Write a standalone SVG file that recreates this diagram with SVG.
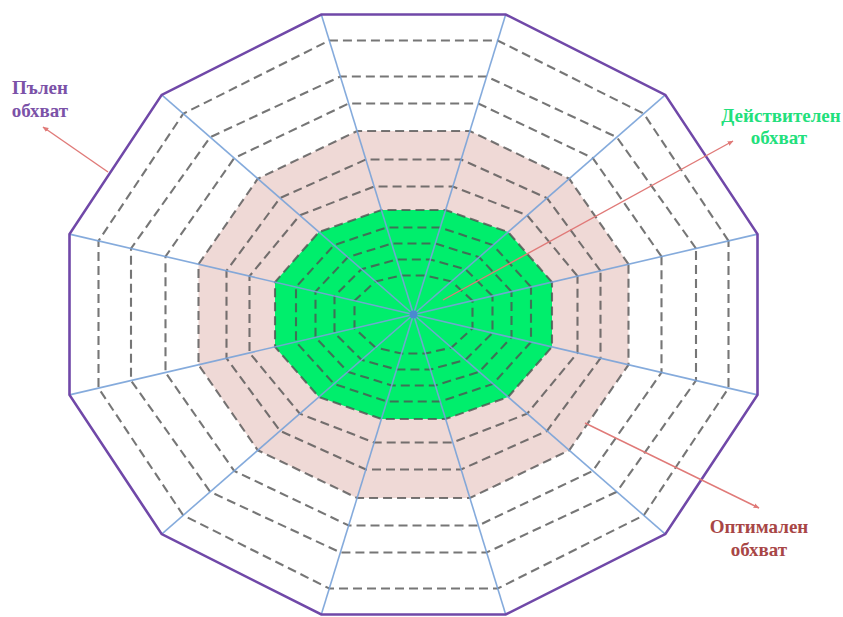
<svg xmlns="http://www.w3.org/2000/svg" width="843" height="617" viewBox="0 0 843 617">
<defs>
<style>
.ring{fill:none;stroke:#505050;stroke-opacity:0.78;stroke-width:2.1;stroke-dasharray:9 5}
.spoke{stroke:#78a2d8;stroke-width:1.6;stroke-opacity:0.9}
.arrow{stroke:#e07a78;stroke-width:1.4;fill:none;marker-end:url(#ah)}
.lbl{font-family:"Liberation Serif","Times New Roman",serif;font-weight:bold;font-size:19px;text-anchor:middle}
</style>
<marker id="ah" viewBox="0 0 10 10" refX="9" refY="5" markerWidth="6" markerHeight="6" orient="auto" markerUnits="userSpaceOnUse">
<path d="M0,1 L10,5 L0,9 z" fill="#e07a78"/>
</marker>
</defs>
<rect width="843" height="617" fill="#ffffff"/>
<g id="zones">
<polygon id="optimal-zone" fill="#efd9d6" points="628.5,264.2 569.2,178.7 469.9,131 357.1,131 257.8,178.7 198.5,264.2 198.5,364.8 257.8,450.3 357.1,498 469.9,498 569.2,450.3 628.5,364.8"/>
<polygon id="actual-zone" fill="#00ee6c" points="552,282.1 508.1,232 445.6,210 381.4,210 318.9,232 275,282.1 275,346.9 318.9,397 381.4,419 445.6,419 508.1,397 552,346.9"/>
</g>
<g id="rings">
<polygon class="ring" points="728.5,240.9 643.8,113.7 497.7,40.5 329.3,40.5 183.2,113.7 98.5,240.9 98.5,388.1 183.2,515.3 329.3,588.5 497.7,588.5 643.8,515.3 728.5,388.1"/>
<polygon class="ring" points="696,248.5 616.8,137.2 486.6,76.5 340.4,76.5 210.2,137.2 131,248.5 131,380.5 210.2,491.8 340.4,552.5 486.6,552.5 616.8,491.8 696,380.5"/>
<polygon class="ring" points="661.5,256.5 592.8,158.1 478.3,103.5 348.7,103.5 234.2,158.1 165.5,256.5 165.5,372.5 234.2,470.9 348.7,525.5 478.3,525.5 592.8,470.9 661.5,372.5"/>
<polygon class="ring" points="628.5,264.2 569.2,178.7 469.9,131 357.1,131 257.8,178.7 198.5,264.2 198.5,364.8 257.8,450.3 357.1,498 469.9,498 569.2,450.3 628.5,364.8"/>
<polygon class="ring" points="600.5,270.8 547,198.1 461.1,159.5 365.9,159.5 280,198.1 226.5,270.8 226.5,358.2 280,430.9 365.9,469.5 461.1,469.5 547,430.9 600.5,358.2"/>
<polygon class="ring" points="577.5,276.2 527.2,215.3 452.8,186.5 374.2,186.5 299.8,215.3 249.5,276.2 249.5,352.8 299.8,413.7 374.2,442.5 452.8,442.5 527.2,413.7 577.5,352.8"/>
<polygon class="ring" points="552,282.1 508.1,232 445.6,210 381.4,210 318.9,232 275,282.1 275,346.9 318.9,397 381.4,419 445.6,419 508.1,397 552,346.9"/>
<polygon class="ring" points="531,287 493,245.1 440.2,227.5 386.8,227.5 334,245.1 296,287 296,342 334,383.9 386.8,401.5 440.2,401.5 493,383.9 531,342"/>
<polygon class="ring" points="511.5,291.6 479.2,257.2 435.3,243.5 391.7,243.5 347.8,257.2 315.5,291.6 315.5,337.4 347.8,371.8 391.7,385.5 435.3,385.5 479.2,371.8 511.5,337.4"/>
<polygon class="ring" points="492.5,296 465.5,269.2 430.4,259.5 396.6,259.5 361.5,269.2 334.5,296 334.5,333 361.5,359.8 396.6,369.5 430.4,369.5 465.5,359.8 492.5,333"/>
<polygon class="ring" points="472.5,300.7 451.5,281.4 425.5,275.5 401.5,275.5 375.5,281.4 354.5,300.7 354.5,328.3 375.5,347.6 401.5,353.5 425.5,353.5 451.5,347.6 472.5,328.3"/>
</g>
<g id="spokes">
<line class="spoke" x1="413.5" y1="314.5" x2="757.5" y2="234.1"/>
<line class="spoke" x1="413.5" y1="314.5" x2="665.3" y2="94.9"/>
<line class="spoke" x1="413.5" y1="314.5" x2="505.7" y2="14.5"/>
<line class="spoke" x1="413.5" y1="314.5" x2="321.3" y2="14.5"/>
<line class="spoke" x1="413.5" y1="314.5" x2="161.7" y2="94.9"/>
<line class="spoke" x1="413.5" y1="314.5" x2="69.5" y2="234.1"/>
<line class="spoke" x1="413.5" y1="314.5" x2="69.5" y2="394.9"/>
<line class="spoke" x1="413.5" y1="314.5" x2="161.7" y2="534.1"/>
<line class="spoke" x1="413.5" y1="314.5" x2="321.3" y2="614.5"/>
<line class="spoke" x1="413.5" y1="314.5" x2="505.7" y2="614.5"/>
<line class="spoke" x1="413.5" y1="314.5" x2="665.3" y2="534.1"/>
<line class="spoke" x1="413.5" y1="314.5" x2="757.5" y2="394.9"/>
<circle cx="413.5" cy="314.5" r="4" fill="#4a8ad0"/>
</g>
<polygon id="full-scope" fill="none" stroke="#7048a8" stroke-width="2.6" stroke-linejoin="miter" points="757.5,234.1 665.3,94.9 505.7,14.5 321.3,14.5 161.7,94.9 69.5,234.1 69.5,394.9 161.7,534.1 321.3,614.5 505.7,614.5 665.3,534.1 757.5,394.9"/>
<g id="connectors">
<line class="arrow" x1="108" y1="172" x2="43" y2="127"/>
<line class="arrow" x1="443" y1="300" x2="733" y2="141"/>
<line class="arrow" x1="585" y1="423" x2="759" y2="508"/>
</g>
<g id="label-full">
<text class="lbl" x="40" y="94" fill="#7b52a8">Пълен</text>
<text class="lbl" x="40" y="117" fill="#7b52a8">обхват</text>
</g>
<g id="label-actual">
<text class="lbl" x="781" y="122" fill="#22e07c">Действителен</text>
<text class="lbl" x="779" y="144" fill="#22e07c">обхват</text>
</g>
<g id="label-optimal">
<text class="lbl" x="759" y="533" fill="#a84646">Оптимален</text>
<text class="lbl" x="759" y="556" fill="#a84646">обхват</text>
</g>
</svg>
